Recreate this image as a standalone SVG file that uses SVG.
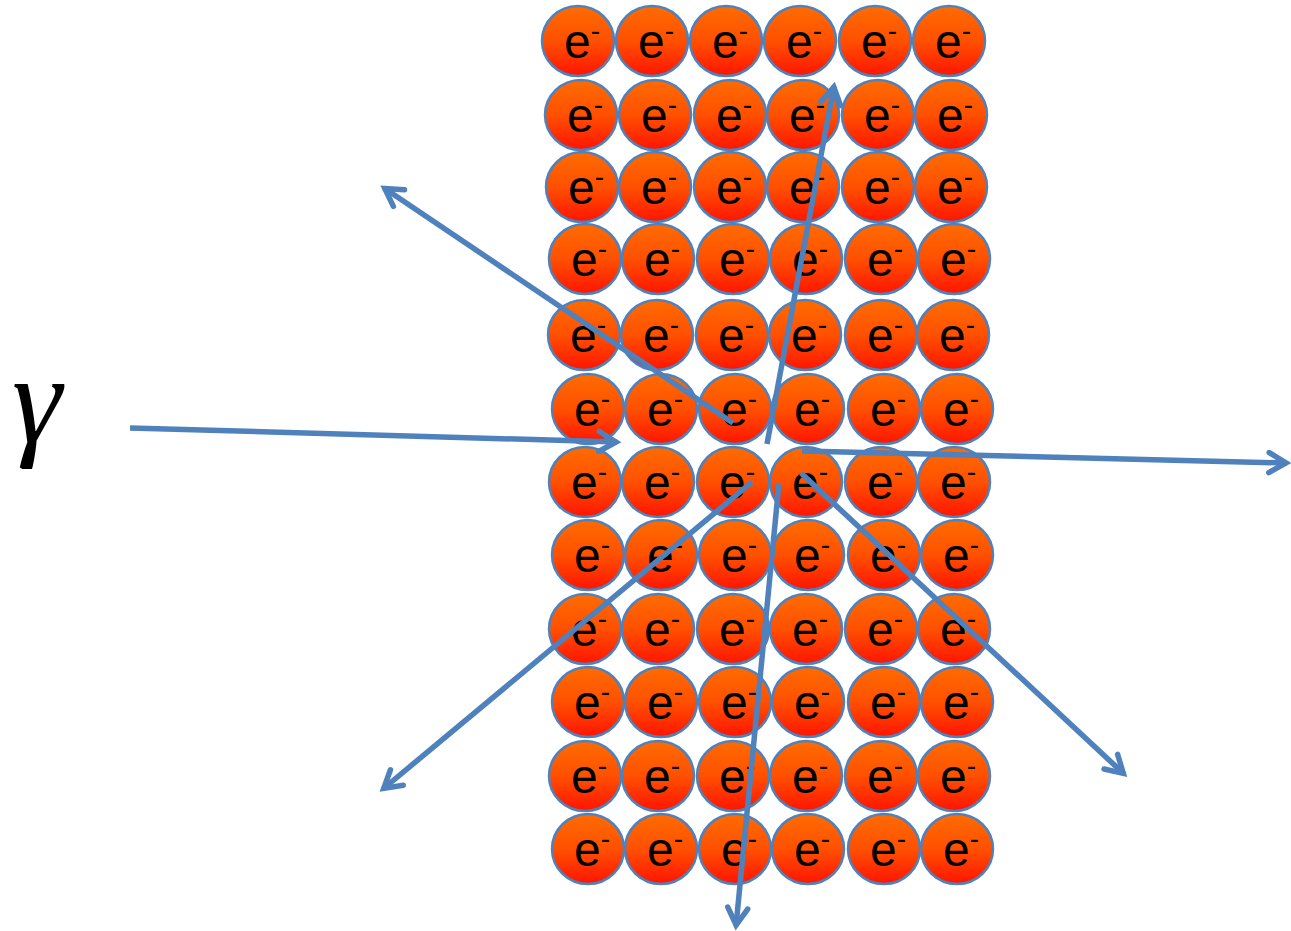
<svg xmlns="http://www.w3.org/2000/svg" width="1291" height="931" viewBox="0 0 1291 931">
<defs>
<linearGradient id="g" x1="0" y1="0" x2="0" y2="1">
<stop offset="0" stop-color="#FF6C00"/>
<stop offset="0.5" stop-color="#FF5000"/>
<stop offset="1" stop-color="#FF1400"/>
</linearGradient>
<marker id="arr" markerUnits="userSpaceOnUse" viewBox="-26 -15 30 30" refX="0" refY="0" markerWidth="30" markerHeight="30" orient="auto" overflow="visible">
<path d="M-18,-10 L-1,0 L-18,10" fill="none" stroke="#4F81BD" stroke-width="5.5" stroke-linejoin="miter" stroke-linecap="round"/>
</marker>
</defs>
<style>
.e ellipse{fill:url(#g);stroke:#4F81BD;stroke-width:2.5}
.e text{font-family:"Liberation Sans","Noto Sans",sans-serif;font-size:48px;fill:#000}
.e tspan{font-size:28px}
.a{fill:none;stroke:#4F81BD;stroke-width:5.5;marker-end:url(#arr)}
</style>
<rect width="1291" height="931" fill="#fff"/>
<g id="electrons">
<g id="r1">
<g id="e1-1" class="e" transform="translate(578,41)"><ellipse rx="36" ry="35"/><text x="-14" y="17">e<tspan dy="-18">-</tspan></text></g>
<g id="e1-2" class="e" transform="translate(652,41)"><ellipse rx="36" ry="35"/><text x="-14" y="17">e<tspan dy="-18">-</tspan></text></g>
<g id="e1-3" class="e" transform="translate(726,41)"><ellipse rx="36" ry="35"/><text x="-14" y="17">e<tspan dy="-18">-</tspan></text></g>
<g id="e1-4" class="e" transform="translate(800,41)"><ellipse rx="36" ry="35"/><text x="-14" y="17">e<tspan dy="-18">-</tspan></text></g>
<g id="e1-5" class="e" transform="translate(875,41)"><ellipse rx="36" ry="35"/><text x="-14" y="17">e<tspan dy="-18">-</tspan></text></g>
<g id="e1-6" class="e" transform="translate(949,41)"><ellipse rx="36" ry="35"/><text x="-14" y="17">e<tspan dy="-18">-</tspan></text></g>
</g>
<g id="r2">
<g id="e2-1" class="e" transform="translate(581,115)"><ellipse rx="36" ry="35"/><text x="-14" y="17">e<tspan dy="-18">-</tspan></text></g>
<g id="e2-2" class="e" transform="translate(655,115)"><ellipse rx="36" ry="35"/><text x="-14" y="17">e<tspan dy="-18">-</tspan></text></g>
<g id="e2-3" class="e" transform="translate(730,115)"><ellipse rx="36" ry="35"/><text x="-14" y="17">e<tspan dy="-18">-</tspan></text></g>
<g id="e2-4" class="e" transform="translate(803,115)"><ellipse rx="36" ry="35"/><text x="-14" y="17">e<tspan dy="-18">-</tspan></text></g>
<g id="e2-5" class="e" transform="translate(878,115)"><ellipse rx="36" ry="35"/><text x="-14" y="17">e<tspan dy="-18">-</tspan></text></g>
<g id="e2-6" class="e" transform="translate(951,115)"><ellipse rx="36" ry="35"/><text x="-14" y="17">e<tspan dy="-18">-</tspan></text></g>
</g>
<g id="r3">
<g id="e3-1" class="e" transform="translate(582,187)"><ellipse rx="36" ry="35"/><text x="-14" y="17">e<tspan dy="-18">-</tspan></text></g>
<g id="e3-2" class="e" transform="translate(655,187)"><ellipse rx="36" ry="35"/><text x="-14" y="17">e<tspan dy="-18">-</tspan></text></g>
<g id="e3-3" class="e" transform="translate(730,187)"><ellipse rx="36" ry="35"/><text x="-14" y="17">e<tspan dy="-18">-</tspan></text></g>
<g id="e3-4" class="e" transform="translate(803,187)"><ellipse rx="36" ry="35"/><text x="-14" y="17">e<tspan dy="-18">-</tspan></text></g>
<g id="e3-5" class="e" transform="translate(878,187)"><ellipse rx="36" ry="35"/><text x="-14" y="17">e<tspan dy="-18">-</tspan></text></g>
<g id="e3-6" class="e" transform="translate(951,187)"><ellipse rx="36" ry="35"/><text x="-14" y="17">e<tspan dy="-18">-</tspan></text></g>
</g>
<g id="r4">
<g id="e4-1" class="e" transform="translate(585,259)"><ellipse rx="36" ry="35"/><text x="-14" y="17">e<tspan dy="-18">-</tspan></text></g>
<g id="e4-2" class="e" transform="translate(658,259)"><ellipse rx="36" ry="35"/><text x="-14" y="17">e<tspan dy="-18">-</tspan></text></g>
<g id="e4-3" class="e" transform="translate(733,259)"><ellipse rx="36" ry="35"/><text x="-14" y="17">e<tspan dy="-18">-</tspan></text></g>
<g id="e4-4" class="e" transform="translate(806,259)"><ellipse rx="36" ry="35"/><text x="-14" y="17">e<tspan dy="-18">-</tspan></text></g>
<g id="e4-5" class="e" transform="translate(881,259)"><ellipse rx="36" ry="35"/><text x="-14" y="17">e<tspan dy="-18">-</tspan></text></g>
<g id="e4-6" class="e" transform="translate(954,259)"><ellipse rx="36" ry="35"/><text x="-14" y="17">e<tspan dy="-18">-</tspan></text></g>
</g>
<g id="r5">
<g id="e5-1" class="e" transform="translate(584,335)"><ellipse rx="36" ry="35"/><text x="-14" y="17">e<tspan dy="-18">-</tspan></text></g>
<g id="e5-2" class="e" transform="translate(657,335)"><ellipse rx="36" ry="35"/><text x="-14" y="17">e<tspan dy="-18">-</tspan></text></g>
<g id="e5-3" class="e" transform="translate(732,335)"><ellipse rx="36" ry="35"/><text x="-14" y="17">e<tspan dy="-18">-</tspan></text></g>
<g id="e5-4" class="e" transform="translate(805,335)"><ellipse rx="36" ry="35"/><text x="-14" y="17">e<tspan dy="-18">-</tspan></text></g>
<g id="e5-5" class="e" transform="translate(881,335)"><ellipse rx="36" ry="35"/><text x="-14" y="17">e<tspan dy="-18">-</tspan></text></g>
<g id="e5-6" class="e" transform="translate(953,335)"><ellipse rx="36" ry="35"/><text x="-14" y="17">e<tspan dy="-18">-</tspan></text></g>
</g>
<g id="r6">
<g id="e6-1" class="e" transform="translate(588,409)"><ellipse rx="36" ry="35"/><text x="-14" y="17">e<tspan dy="-18">-</tspan></text></g>
<g id="e6-2" class="e" transform="translate(661,409)"><ellipse rx="36" ry="35"/><text x="-14" y="17">e<tspan dy="-18">-</tspan></text></g>
<g id="e6-3" class="e" transform="translate(735,409)"><ellipse rx="36" ry="35"/><text x="-14" y="17">e<tspan dy="-18">-</tspan></text></g>
<g id="e6-4" class="e" transform="translate(808,409)"><ellipse rx="36" ry="35"/><text x="-14" y="17">e<tspan dy="-18">-</tspan></text></g>
<g id="e6-5" class="e" transform="translate(884,409)"><ellipse rx="36" ry="35"/><text x="-14" y="17">e<tspan dy="-18">-</tspan></text></g>
<g id="e6-6" class="e" transform="translate(957,409)"><ellipse rx="36" ry="35"/><text x="-14" y="17">e<tspan dy="-18">-</tspan></text></g>
</g>
<g id="r7">
<g id="e7-1" class="e" transform="translate(585,482)"><ellipse rx="36" ry="35"/><text x="-14" y="17">e<tspan dy="-18">-</tspan></text></g>
<g id="e7-2" class="e" transform="translate(658,482)"><ellipse rx="36" ry="35"/><text x="-14" y="17">e<tspan dy="-18">-</tspan></text></g>
<g id="e7-3" class="e" transform="translate(733,482)"><ellipse rx="36" ry="35"/><text x="-14" y="17">e<tspan dy="-18">-</tspan></text></g>
<g id="e7-4" class="e" transform="translate(806,482)"><ellipse rx="36" ry="35"/><text x="-14" y="17">e<tspan dy="-18">-</tspan></text></g>
<g id="e7-5" class="e" transform="translate(881,482)"><ellipse rx="36" ry="35"/><text x="-14" y="17">e<tspan dy="-18">-</tspan></text></g>
<g id="e7-6" class="e" transform="translate(954,482)"><ellipse rx="36" ry="35"/><text x="-14" y="17">e<tspan dy="-18">-</tspan></text></g>
</g>
<g id="r8">
<g id="e8-1" class="e" transform="translate(588,555)"><ellipse rx="36" ry="35"/><text x="-14" y="17">e<tspan dy="-18">-</tspan></text></g>
<g id="e8-2" class="e" transform="translate(661,555)"><ellipse rx="36" ry="35"/><text x="-14" y="17">e<tspan dy="-18">-</tspan></text></g>
<g id="e8-3" class="e" transform="translate(735,555)"><ellipse rx="36" ry="35"/><text x="-14" y="17">e<tspan dy="-18">-</tspan></text></g>
<g id="e8-4" class="e" transform="translate(808,555)"><ellipse rx="36" ry="35"/><text x="-14" y="17">e<tspan dy="-18">-</tspan></text></g>
<g id="e8-5" class="e" transform="translate(884,555)"><ellipse rx="36" ry="35"/><text x="-14" y="17">e<tspan dy="-18">-</tspan></text></g>
<g id="e8-6" class="e" transform="translate(957,555)"><ellipse rx="36" ry="35"/><text x="-14" y="17">e<tspan dy="-18">-</tspan></text></g>
</g>
<g id="r9">
<g id="e9-1" class="e" transform="translate(585,629)"><ellipse rx="36" ry="35"/><text x="-14" y="17">e<tspan dy="-18">-</tspan></text></g>
<g id="e9-2" class="e" transform="translate(658,629)"><ellipse rx="36" ry="35"/><text x="-14" y="17">e<tspan dy="-18">-</tspan></text></g>
<g id="e9-3" class="e" transform="translate(733,629)"><ellipse rx="36" ry="35"/><text x="-14" y="17">e<tspan dy="-18">-</tspan></text></g>
<g id="e9-4" class="e" transform="translate(806,629)"><ellipse rx="36" ry="35"/><text x="-14" y="17">e<tspan dy="-18">-</tspan></text></g>
<g id="e9-5" class="e" transform="translate(881,629)"><ellipse rx="36" ry="35"/><text x="-14" y="17">e<tspan dy="-18">-</tspan></text></g>
<g id="e9-6" class="e" transform="translate(954,629)"><ellipse rx="36" ry="35"/><text x="-14" y="17">e<tspan dy="-18">-</tspan></text></g>
</g>
<g id="r10">
<g id="e10-1" class="e" transform="translate(588,702)"><ellipse rx="36" ry="35"/><text x="-14" y="17">e<tspan dy="-18">-</tspan></text></g>
<g id="e10-2" class="e" transform="translate(661,702)"><ellipse rx="36" ry="35"/><text x="-14" y="17">e<tspan dy="-18">-</tspan></text></g>
<g id="e10-3" class="e" transform="translate(735,702)"><ellipse rx="36" ry="35"/><text x="-14" y="17">e<tspan dy="-18">-</tspan></text></g>
<g id="e10-4" class="e" transform="translate(808,702)"><ellipse rx="36" ry="35"/><text x="-14" y="17">e<tspan dy="-18">-</tspan></text></g>
<g id="e10-5" class="e" transform="translate(884,702)"><ellipse rx="36" ry="35"/><text x="-14" y="17">e<tspan dy="-18">-</tspan></text></g>
<g id="e10-6" class="e" transform="translate(957,702)"><ellipse rx="36" ry="35"/><text x="-14" y="17">e<tspan dy="-18">-</tspan></text></g>
</g>
<g id="r11">
<g id="e11-1" class="e" transform="translate(585,776)"><ellipse rx="36" ry="35"/><text x="-14" y="17">e<tspan dy="-18">-</tspan></text></g>
<g id="e11-2" class="e" transform="translate(658,776)"><ellipse rx="36" ry="35"/><text x="-14" y="17">e<tspan dy="-18">-</tspan></text></g>
<g id="e11-3" class="e" transform="translate(733,776)"><ellipse rx="36" ry="35"/><text x="-14" y="17">e<tspan dy="-18">-</tspan></text></g>
<g id="e11-4" class="e" transform="translate(806,776)"><ellipse rx="36" ry="35"/><text x="-14" y="17">e<tspan dy="-18">-</tspan></text></g>
<g id="e11-5" class="e" transform="translate(881,776)"><ellipse rx="36" ry="35"/><text x="-14" y="17">e<tspan dy="-18">-</tspan></text></g>
<g id="e11-6" class="e" transform="translate(954,776)"><ellipse rx="36" ry="35"/><text x="-14" y="17">e<tspan dy="-18">-</tspan></text></g>
</g>
<g id="r12">
<g id="e12-1" class="e" transform="translate(588,849)"><ellipse rx="36" ry="35"/><text x="-14" y="17">e<tspan dy="-18">-</tspan></text></g>
<g id="e12-2" class="e" transform="translate(661,849)"><ellipse rx="36" ry="35"/><text x="-14" y="17">e<tspan dy="-18">-</tspan></text></g>
<g id="e12-3" class="e" transform="translate(735,849)"><ellipse rx="36" ry="35"/><text x="-14" y="17">e<tspan dy="-18">-</tspan></text></g>
<g id="e12-4" class="e" transform="translate(808,849)"><ellipse rx="36" ry="35"/><text x="-14" y="17">e<tspan dy="-18">-</tspan></text></g>
<g id="e12-5" class="e" transform="translate(884,849)"><ellipse rx="36" ry="35"/><text x="-14" y="17">e<tspan dy="-18">-</tspan></text></g>
<g id="e12-6" class="e" transform="translate(957,849)"><ellipse rx="36" ry="35"/><text x="-14" y="17">e<tspan dy="-18">-</tspan></text></g>
</g>
</g>
<g id="gamma-label">
<text x="12" y="442" font-family="'Liberation Serif','DejaVu Serif',serif" font-style="italic" font-size="126" fill="#000">γ</text>
</g>
<g id="connectors">
<line class="a" x1="130" y1="428" x2="617" y2="442"/>
<line class="a" x1="802" y1="451" x2="1287" y2="463"/>
<line class="a" x1="767" y1="444" x2="834" y2="86"/>
<line class="a" x1="733" y1="423" x2="384" y2="188"/>
<line class="a" x1="752" y1="482" x2="383" y2="789"/>
<line class="a" x1="779" y1="483" x2="736" y2="926"/>
<line class="a" x1="801" y1="473" x2="1124" y2="774"/>
</g>
</svg>
